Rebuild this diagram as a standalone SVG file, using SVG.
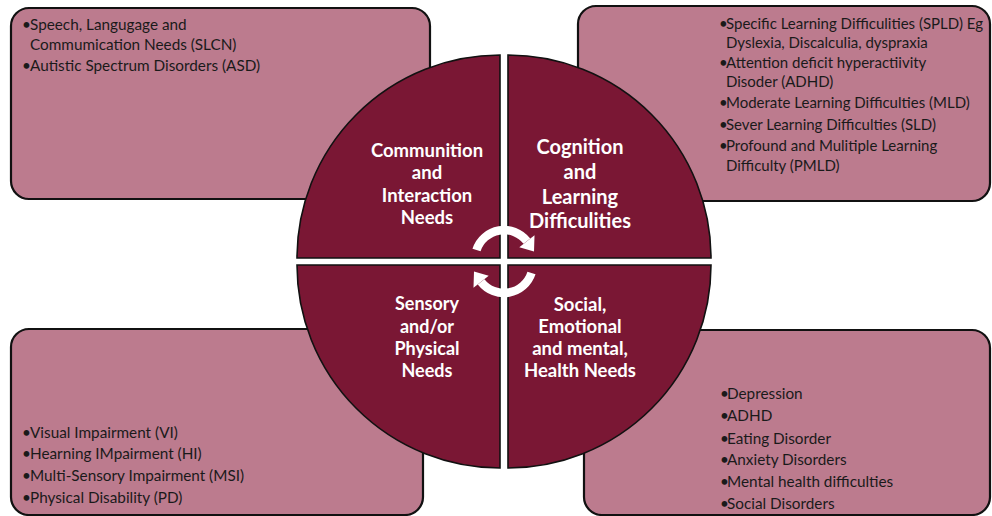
<svg xmlns="http://www.w3.org/2000/svg" width="992" height="516" viewBox="0 0 992 516">
<style>
.box{fill:#BC7B8E;stroke:#111;stroke-width:2.2}
.quad{fill:#7A1734;stroke:#111;stroke-width:1.6}
.item{font-family:Lato,"Liberation Sans",sans-serif;font-size:15.3px;fill:#1a1a1a}
.sm{font-size:15px}
.lbl{font-family:Lato,"Liberation Sans",sans-serif;font-weight:bold;fill:#fff;text-anchor:middle}
.arc{fill:none;stroke:#fff;stroke-width:8.5}
.head{fill:#fff}
</style>
<rect width="992" height="516" fill="#fff"/>
<g id="box-communication">
<rect class="box" x="11" y="8" width="419" height="191" rx="18"/>
<text class="item" x="22" y="30">•<tspan x="30">Speech, Langugage and</tspan></text>
<text class="item" x="30" y="50">Commumication Needs (SLCN)</text>
<text class="item" x="22" y="71">•<tspan x="30">Autistic Spectrum Disorders (ASD)</tspan></text>
</g>
<g id="box-cognition">
<rect class="box" x="578" y="6" width="412" height="195" rx="18"/>
<text class="item sm" x="719" y="29">•<tspan x="726">Specific Learning Difficulities (SPLD) Eg</tspan></text>
<text class="item sm" x="726" y="48">Dyslexia, Discalculia, dyspraxia</text>
<text class="item sm" x="719" y="68">•<tspan x="726">Attention deficit hyperactiivity</tspan></text>
<text class="item sm" x="726" y="87">Disoder (ADHD)</text>
<text class="item sm" x="719" y="108">•<tspan x="726">Moderate Learning Difficulties (MLD)</tspan></text>
<text class="item sm" x="719" y="130">•<tspan x="726">Sever Learning Difficulties (SLD)</tspan></text>
<text class="item sm" x="719" y="151">•<tspan x="726">Profound and Mulitiple Learning</tspan></text>
<text class="item sm" x="726" y="171">Difficulty (PMLD)</text>
</g>
<g id="box-sensory">
<rect class="box" x="11" y="329" width="412" height="186" rx="18"/>
<text class="item" x="22" y="438">•<tspan x="30">Visual Impairment (VI)</tspan></text>
<text class="item" x="22" y="459">•<tspan x="30">Hearning IMpairment (HI)</tspan></text>
<text class="item" x="22" y="481">•<tspan x="30">Multi-Sensory Impairment (MSI)</tspan></text>
<text class="item" x="22" y="503">•<tspan x="30">Physical Disability (PD)</tspan></text>
</g>
<g id="box-social">
<rect class="box" x="584" y="330" width="406" height="185" rx="18"/>
<text class="item" x="720" y="399">•<tspan x="727">Depression</tspan></text>
<text class="item" x="720" y="421">•<tspan x="727">ADHD</tspan></text>
<text class="item" x="720" y="444">•<tspan x="727">Eating Disorder</tspan></text>
<text class="item" x="720" y="465">•<tspan x="727">Anxiety Disorders</tspan></text>
<text class="item" x="720" y="487">•<tspan x="727">Mental health difficulties</tspan></text>
<text class="item" x="720" y="509">•<tspan x="727">Social Disorders</tspan></text>
</g>
<g id="quad-communication">
<path class="quad" d="M500 258 L297 258 A203 203 0 0 1 500 55 Z"/>
<text class="lbl" font-size="18.5" x="427"><tspan x="427" y="157">Communition</tspan><tspan x="427" y="179">and</tspan><tspan x="427" y="202">Interaction</tspan><tspan x="427" y="224">Needs</tspan></text>
</g>
<g id="quad-cognition">
<path class="quad" d="M508 258 L508 55 A203 203 0 0 1 711 258 Z"/>
<text class="lbl" font-size="20" x="580"><tspan x="580" y="154">Cognition</tspan><tspan x="580" y="179">and</tspan><tspan x="580" y="204">Learning</tspan><tspan x="580" y="228">Difficulities</tspan></text>
</g>
<g id="quad-sensory">
<path class="quad" d="M500 265 L500 468 A203 203 0 0 1 297 265 Z"/>
<text class="lbl" font-size="18" x="427"><tspan x="427" y="310">Sensory</tspan><tspan x="427" y="333">and/or</tspan><tspan x="427" y="355">Physical</tspan><tspan x="427" y="377">Needs</tspan></text>
</g>
<g id="quad-social">
<path class="quad" d="M508 265 L711 265 A203 203 0 0 1 508 468 Z"/>
<text class="lbl" font-size="18.5" x="580"><tspan x="580" y="311">Social,</tspan><tspan x="580" y="333">Emotional</tspan><tspan x="580" y="355">and mental,</tspan><tspan x="580" y="377">Health Needs</tspan></text>
</g>
<g id="connectors">
<path class="arc" d="M476.5 250 A29 29 0 0 1 526.9 241.2"/>
<polygon class="head" points="534.5,235.2 519.3,247.2 534,251.5"/>
<path class="arc" d="M531.5 273 A29 29 0 0 1 481.1 281.8"/>
<polygon class="head" points="473.5,287.8 488.7,275.8 474,271.5"/>
</g>
</svg>
